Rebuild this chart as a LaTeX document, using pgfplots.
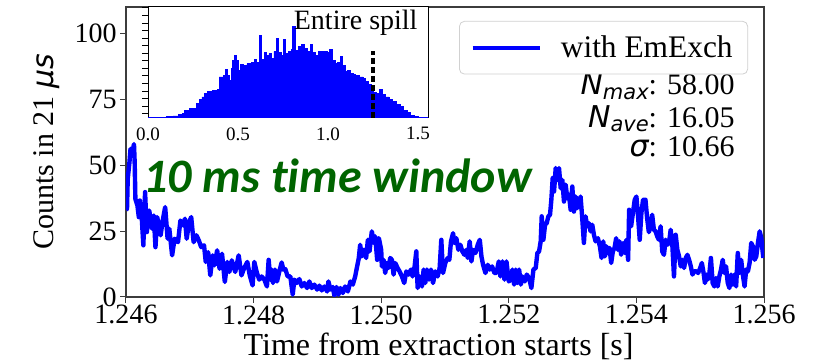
\documentclass[border=0pt]{standalone}
\usepackage{pgfplots}
\pgfplotsset{compat=1.18}
\usepackage{fontspec}
\setmainfont{Liberation Serif}
\newfontfamily\dvs{DejaVu Sans}
\newfontfamily\lser{Liberation Serif}
\newfontfamily\carlito{Carlito}[Ligatures=NoCommon]
\definecolor{dgreen}{RGB}{0,100,0}
\definecolor{frame}{RGB}{60,60,60}
\newcommand\Nsub[1]{{\dvs\itshape N}\raisebox{-0.35ex}{\fontsize{10.5}{12}\selectfont\dvs\itshape #1}}
\begin{document}
\begin{tikzpicture}
\path[use as bounding box] (-63pt,-32.5pt) rectangle (351pt,148.5pt);
\begin{axis}[
  at={(0pt,0pt)}, anchor=south west,
  scale only axis, width=319pt, height=145pt,
  xmin=1.246, xmax=1.256, ymin=0, ymax=110,
  xtick={1.246,1.248,1.250,1.252,1.254,1.256},
  xticklabels={1.246,1.248,1.250,1.252,1.254,1.256},
  ytick={0,25,50,75,100},
  yticklabels={0,25,50,75,100},
  xtick pos=bottom, ytick pos=left,
  tick align=outside, major tick length=3pt,
  tick style={frame, line width=0.5pt},
  axis line style={frame, line width=0.6pt},
  ticklabel style={font=\fontsize{14}{16}\selectfont},
  xticklabel style={inner sep=1pt},
  yticklabel style={inner sep=1.5pt},
  xlabel={Time from extraction starts [s]},
  ylabel={{\lser Counts in 21 }{\dvs\itshape μs}},
  xlabel style={font=\fontsize{16}{18}\selectfont, at={(axis description cs:0.49,0)}, anchor=base, yshift=-29.5pt},
  ylabel style={font=\fontsize{15}{17}\selectfont, at={(axis description cs:-0.125,0.5)}, anchor=center},
  legend style={at={(0.975,0.952)}, anchor=north east, draw=black!18, rounded corners=2.5pt, fill=white,
    font=\fontsize{15.7}{17}\selectfont, inner xsep=5.5pt, inner ysep=5pt,
    /tikz/every odd column/.append style={column sep=7.5pt}},
  legend image code/.code={\draw[#1] (0pt,0pt) -- (33.5pt,0pt);},
]
\addplot[blue, line width=2.2pt, line join=round] coordinates {
(1.246000,33.0) (1.246016,33.5) (1.246027,44.8) (1.246054,51.1) (1.246071,56.2) (1.246092,53.7)
(1.246125,58.0) (1.246136,51.1) (1.246147,37.2) (1.246179,34.7) (1.246201,30.3) (1.246217,36.6)
(1.246245,30.9) (1.246272,19.6) (1.246299,39.8) (1.246326,24.6) (1.246364,32.8) (1.246408,25.9)
(1.246435,30.9) (1.246462,18.9) (1.246489,30.3) (1.246516,27.1) (1.246543,23.4) (1.246571,28.4)
(1.246614,34.1) (1.246652,22.1) (1.246679,25.9) (1.246723,15.8) (1.246761,22.1) (1.246815,20.8)
(1.246853,29.0) (1.246897,27.1) (1.246924,29.7) (1.246951,22.1) (1.246989,28.4) (1.247022,30.3)
(1.247060,20.8) (1.247103,23.4) (1.247141,21.5) (1.247179,18.9) (1.247223,19.6) (1.247250,13.3)
(1.247288,17.0) (1.247321,8.2) (1.247359,15.8) (1.247386,12.0) (1.247429,17.7) (1.247467,10.7)
(1.247505,16.4) (1.247549,5.7) (1.247587,13.3) (1.247620,9.5) (1.247658,13.9) (1.247712,9.5)
(1.247766,15.8) (1.247810,8.2) (1.247848,10.7) (1.247902,13.3) (1.247940,8.2) (1.247984,4.4)
(1.248011,13.3)
(1.248052,9.1) (1.248089,6.6) (1.248126,7.8) (1.248168,6.6) (1.248209,4.0) (1.248236,14.1)
(1.248262,6.6) (1.248283,10.4) (1.248304,5.3) (1.248335,10.4) (1.248367,5.9) (1.248403,9.7)
(1.248440,13.1) (1.248466,10.4) (1.248497,10.6) (1.248534,7.8) (1.248576,7.8) (1.248613,0.9)
(1.248639,6.6) (1.248675,5.3) (1.248717,6.8) (1.248754,4.0) (1.248796,5.3) (1.248838,3.4)
(1.248874,5.9) (1.248911,3.4) (1.248953,4.7) (1.248995,2.8) (1.249031,4.3) (1.249068,2.5)
(1.249110,4.0) (1.249152,2.1) (1.249173,5.9) (1.249204,2.8) (1.249241,3.8) (1.249267,0.5)
(1.249299,3.8) (1.249330,0.9) (1.249361,3.4) (1.249398,1.5) (1.249435,4.0) (1.249477,2.1)
(1.249518,5.9) (1.249555,4.7) (1.249592,7.8) (1.249623,11.6) (1.249649,14.8) (1.249670,19.8)
(1.249696,15.4) (1.249728,17.9) (1.249764,14.8) (1.249791,21.7) (1.249817,17.3) (1.249853,24.9)
(1.249885,20.5) (1.249906,23.0) (1.249937,14.1) (1.249963,22.3) (1.250000,17.9)
(1.250010,11.6) (1.250037,14.1) (1.250063,9.1) (1.250089,12.9) (1.250115,11.0) (1.250141,14.8)
(1.250168,14.1) (1.250194,8.5) (1.250220,12.9) (1.250257,11.0) (1.250288,9.7) (1.250325,7.8)
(1.250361,5.3) (1.250393,9.7) (1.250429,8.5) (1.250466,10.4) (1.250492,7.8) (1.250524,11.6)
(1.250550,17.3) (1.250571,3.4) (1.250602,7.8) (1.250639,4.0) (1.250665,10.4) (1.250691,5.3)
(1.250717,10.4) (1.250749,6.6) (1.250780,10.4) (1.250812,5.3) (1.250848,9.7) (1.250885,7.8)
(1.250916,11.0) (1.250942,21.7) (1.250969,9.1) (1.251005,12.9) (1.251042,14.8) (1.251068,14.1)
(1.251094,21.1) (1.251126,24.2) (1.251147,20.5) (1.251178,22.3) (1.251209,17.9) (1.251241,19.8)
(1.251272,17.3) (1.251304,16.0) (1.251335,17.9) (1.251356,14.8) (1.251387,21.1) (1.251414,13.5)
(1.251440,17.9) (1.251477,16.7) (1.251513,19.8) (1.251545,21.7) (1.251571,15.4) (1.251597,12.2)
(1.251634,9.1) (1.251670,12.2) (1.251702,10.4) (1.251738,11.6) (1.251775,9.1) (1.251806,9.1)
(1.251843,13.5) (1.251869,7.8) (1.251901,13.5) (1.251932,6.6) (1.251963,13.5) (1.252000,5.9)
(1.252031,6.6) (1.252057,10.4) (1.252083,4.7) (1.252109,10.4) (1.252135,5.3) (1.252162,10.4)
(1.252188,4.7) (1.252214,7.8) (1.252250,5.9) (1.252281,8.5) (1.252318,7.2) (1.252354,3.4)
(1.252386,10.4) (1.252422,11.0) (1.252448,16.7) (1.252474,17.3) (1.252500,21.1) (1.252516,30.6)
(1.252542,21.7) (1.252568,27.4) (1.252594,28.0) (1.252620,30.6) (1.252646,31.2) (1.252667,36.9)
(1.252688,45.1) (1.252709,40.0) (1.252735,48.9) (1.252761,44.4) (1.252787,48.9) (1.252813,41.3)
(1.252839,44.4) (1.252865,36.2) (1.252891,42.6) (1.252917,37.5) (1.252943,38.8) (1.252969,33.1)
(1.252995,41.9) (1.253021,32.4) (1.253047,38.1) (1.253073,33.7) (1.253099,35.6) (1.253125,38.1)
(1.253151,29.9) (1.253177,20.5) (1.253203,30.6) (1.253229,26.8) (1.253255,28.0) (1.253282,24.9)
(1.253308,27.4) (1.253334,23.6) (1.253360,21.1) (1.253396,22.3) (1.253428,19.2) (1.253454,14.8)
(1.253480,21.1) (1.253506,15.4) (1.253532,19.2) (1.253553,16.7) (1.253579,18.6) (1.253605,12.9)
(1.253631,17.3) (1.253657,18.6) (1.253683,22.3) (1.253709,17.9) (1.253735,21.1) (1.253761,16.0)
(1.253792,20.5) (1.253818,16.7) (1.253844,21.7) (1.253870,14.1) (1.253886,33.1) (1.253917,26.8)
(1.253948,32.4) (1.253974,36.9) (1.254000,38.1) (1.254026,30.6) (1.254052,21.7) (1.254078,31.8)
(1.254104,36.9)
(1.254142,36.9) (1.254168,29.9) (1.254195,24.6) (1.254221,26.5) (1.254247,31.2) (1.254274,25.5)
(1.254300,24.9) (1.254326,23.0) (1.254353,21.7) (1.254379,26.8) (1.254405,17.3) (1.254432,16.0)
(1.254458,21.7) (1.254484,19.8) (1.254511,20.5) (1.254537,25.5) (1.254563,19.8) (1.254589,7.8)
(1.254616,23.6) (1.254642,17.9) (1.254668,15.4) (1.254695,11.6) (1.254721,14.1) (1.254747,11.0)
(1.254774,14.8) (1.254800,16.0) (1.254826,14.1) (1.254853,11.6) (1.254879,8.5) (1.254905,9.7)
(1.254942,9.7) (1.254968,9.1) (1.255000,11.0) (1.255026,12.9) (1.255053,9.1) (1.255074,5.3)
(1.255100,8.5) (1.255116,6.6) (1.255142,8.5) (1.255168,14.8) (1.255195,5.3) (1.255221,4.0)
(1.255247,7.2) (1.255274,4.0) (1.255300,7.8) (1.255326,10.4) (1.255353,14.1) (1.255379,9.1)
(1.255405,11.6) (1.255432,5.3) (1.255458,3.4) (1.255484,8.5) (1.255511,4.7) (1.255537,8.5)
(1.255563,4.0) (1.255589,16.7) (1.255616,9.1) (1.255642,14.1) (1.255668,8.5) (1.255695,4.0)
(1.255721,10.4) (1.255747,9.7) (1.255774,12.9) (1.255800,20.5) (1.255826,19.2) (1.255853,14.1)
(1.255879,15.4) (1.255905,20.5) (1.255932,24.9) (1.255958,22.3) (1.255989,14.8)
};
\addlegendentry{with EmExch}
\node[anchor=base west, inner sep=0pt, text=dgreen, font=\carlito\bfseries\itshape\fontsize{24}{28}\selectfont]
  at (rel axis cs:0.0266,0.362) {10 ms time window};
\node[anchor=base east, inner sep=0pt, font=\fontsize{15}{17}\selectfont] at (rel axis cs:0.9545,0.6966) {\Nsub{max}{\lser: 58.00}};
\node[anchor=base east, inner sep=0pt, font=\fontsize{15}{17}\selectfont] at (rel axis cs:0.9545,0.586) {\Nsub{ave}{\lser: 16.05}};
\node[anchor=base east, inner sep=0pt, font=\fontsize{15}{17}\selectfont] at (rel axis cs:0.9545,0.483) {{\dvs\itshape σ}{\lser: 10.66}};
\end{axis}
\begin{axis}[
  at={(11pt,89.5pt)}, anchor=south west,
  scale only axis, width=140pt, height=55.5pt,
  xmin=0, xmax=1.556, ymin=0, ymax=1,
  xtick={0,0.5,1,1.5}, xticklabels={0.0,0.5,1.0,1.5},
  ytick={0.04,0.108,...,1}, yticklabels={},
  xtick pos=bottom, ytick pos=left,
  tick align=outside, major tick length=3pt,
  xtick style={draw=none},
  ytick style={black, line width=0.4pt},
  axis line style={black, line width=0.5pt},
  ticklabel style={font=\fontsize{9.5}{11}\selectfont},
  xticklabel style={inner sep=1.5pt},
  axis background/.style={fill=white},
]
\addplot[const plot, fill=blue, draw=blue, line width=0.4pt] coordinates {
(0.000,0.006) (0.100,0.010) (0.140,0.018) (0.170,0.030) (0.190,0.040) (0.205,0.070)
(0.230,0.085) (0.255,0.090) (0.270,0.130) (0.285,0.170) (0.300,0.190) (0.315,0.225)
(0.330,0.240) (0.360,0.250) (0.385,0.260) (0.395,0.370) (0.420,0.380) (0.428,0.435)
(0.440,0.380) (0.450,0.340) (0.462,0.450) (0.470,0.520) (0.478,0.560) (0.490,0.520)
(0.500,0.430) (0.512,0.480) (0.530,0.470) (0.550,0.490) (0.575,0.500) (0.590,0.530)
(0.605,0.500) (0.618,0.745) (0.630,0.530) (0.648,0.590) (0.660,0.560) (0.672,0.580)
(0.683,0.540) (0.700,0.600) (0.712,0.715) (0.724,0.590) (0.740,0.560) (0.752,0.705)
(0.764,0.580) (0.780,0.600) (0.795,0.620) (0.805,0.825) (0.817,0.610) (0.835,0.645)
(0.855,0.660) (0.870,0.630) (0.888,0.600) (0.902,0.660) (0.914,0.590) (0.930,0.560)
(0.948,0.600) (0.975,0.600) (0.995,0.590) (1.010,0.615) (1.022,0.520) (1.040,0.490)
(1.055,0.500) (1.068,0.555) (1.080,0.470) (1.095,0.420) (1.110,0.430) (1.125,0.400)
(1.140,0.390) (1.155,0.380) (1.175,0.370) (1.195,0.360) (1.210,0.330) (1.225,0.300)
(1.240,0.270) (1.255,0.230) (1.270,0.220) (1.285,0.260) (1.300,0.210) (1.320,0.190)
(1.340,0.170) (1.360,0.150) (1.380,0.125) (1.400,0.100) (1.420,0.070) (1.440,0.050)
(1.460,0.025) (1.480,0.010) (1.500,0.006) (1.556,0.006)
} \closedcycle;
\addplot[black, line width=1.6pt, dash pattern=on 3pt off 1.5pt] coordinates {(1.25,0) (1.25,0.6)};
\node[anchor=base east, inner sep=0pt, font=\fontsize{14}{16}\selectfont] at (rel axis cs:0.964,0.80) {Entire spill};
\end{axis}
\end{tikzpicture}
\end{document}
